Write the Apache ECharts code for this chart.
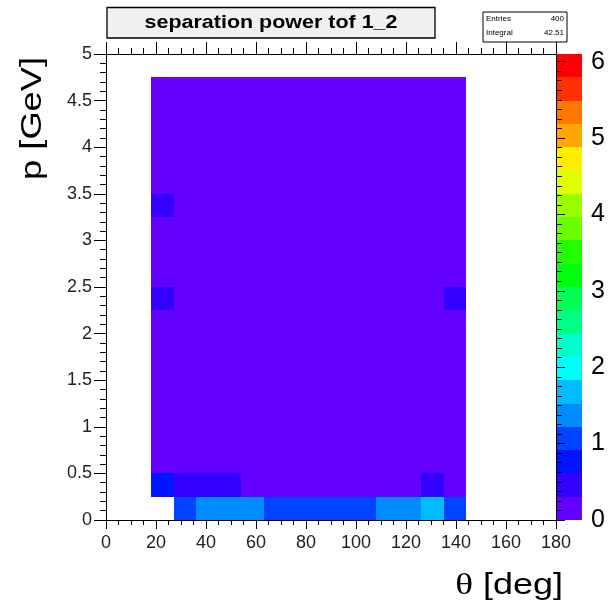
<!DOCTYPE html>
<html>
<head>
<meta charset="utf-8">
<script src="https://cdn.jsdelivr.net/npm/echarts@6.0.0/dist/echarts.min.js"></script>
<style>
  html, body { margin: 0; padding: 0; background: #ffffff; }
  #chart { width: 610px; height: 608px; }
</style>
</head>
<body>
<div id="chart"></div>
<script>
// ---- data ----
const titleText = 'separation power tof 1_2';
const xTitle = '{t|θ} [deg]';
const yTitle = 'p [GeV]';
const statsLabels = ['Entries', 'Integral'];
const statsValues = ['400', '42.51'];

// bin edges: theta (deg), p (GeV)
const thetaEdges = [0, 9, 18, 27, 36, 45, 54, 63, 72, 81, 90, 99, 108, 117, 126, 135, 144, 153, 162, 171, 180];
const pEdges = [0, 0.25, 0.5, 0.75, 1, 1.25, 1.5, 1.75, 2, 2.25, 2.5, 2.75, 3, 3.25, 3.5, 3.75, 4, 4.25, 4.5, 4.75, 5];

// axis ranges / tick steps
const thetaRange = [0, 180];
const thetaTickStep = 20;
const pRange = [0, 5];
const pTickStep = 0.5;
const zRange = [0, 6.1];      // full colour range of the palette bar
const zScaleRange = [0, 6];   // labelled part of the colour scale
const zTickStep = 1;

// bin contents, one row per p bin (row 0 = 0..0.25 GeV), one column per theta bin
const N = null;
const zGrid = [
  [N, N, N,    1.05, 1.35, 1.35, 1.35, 1.05, 1.05, 1.05, 1.05, 1.05, 1.35, 1.35, 1.7,  1.05, N, N, N, N],
  [N, N, 0.75, 0.45, 0.45, 0.45, 0.09, 0.09, 0.09, 0.09, 0.09, 0.09, 0.09, 0.09, 0.45, 0.09, N, N, N, N],
  [N, N, 0.09, 0.09, 0.09, 0.09, 0.09, 0.09, 0.09, 0.09, 0.09, 0.09, 0.09, 0.09, 0.09, 0.09, N, N, N, N],
  [N, N, 0.09, 0.09, 0.09, 0.09, 0.09, 0.09, 0.09, 0.09, 0.09, 0.09, 0.09, 0.09, 0.09, 0.09, N, N, N, N],
  [N, N, 0.09, 0.09, 0.09, 0.09, 0.09, 0.09, 0.09, 0.09, 0.09, 0.09, 0.09, 0.09, 0.09, 0.09, N, N, N, N],
  [N, N, 0.09, 0.09, 0.09, 0.09, 0.09, 0.09, 0.09, 0.09, 0.09, 0.09, 0.09, 0.09, 0.09, 0.09, N, N, N, N],
  [N, N, 0.09, 0.09, 0.09, 0.09, 0.09, 0.09, 0.09, 0.09, 0.09, 0.09, 0.09, 0.09, 0.09, 0.09, N, N, N, N],
  [N, N, 0.09, 0.09, 0.09, 0.09, 0.09, 0.09, 0.09, 0.09, 0.09, 0.09, 0.09, 0.09, 0.09, 0.09, N, N, N, N],
  [N, N, 0.09, 0.09, 0.09, 0.09, 0.09, 0.09, 0.09, 0.09, 0.09, 0.09, 0.09, 0.09, 0.09, 0.09, N, N, N, N],
  [N, N, 0.45, 0.09, 0.09, 0.09, 0.09, 0.09, 0.09, 0.09, 0.09, 0.09, 0.09, 0.09, 0.09, 0.45, N, N, N, N],
  [N, N, 0.09, 0.09, 0.09, 0.09, 0.09, 0.09, 0.09, 0.09, 0.09, 0.09, 0.09, 0.09, 0.09, 0.09, N, N, N, N],
  [N, N, 0.09, 0.09, 0.09, 0.09, 0.09, 0.09, 0.09, 0.09, 0.09, 0.09, 0.09, 0.09, 0.09, 0.09, N, N, N, N],
  [N, N, 0.09, 0.09, 0.09, 0.09, 0.09, 0.09, 0.09, 0.09, 0.09, 0.09, 0.09, 0.09, 0.09, 0.09, N, N, N, N],
  [N, N, 0.45, 0.09, 0.09, 0.09, 0.09, 0.09, 0.09, 0.09, 0.09, 0.09, 0.09, 0.09, 0.09, 0.09, N, N, N, N],
  [N, N, 0.09, 0.09, 0.09, 0.09, 0.09, 0.09, 0.09, 0.09, 0.09, 0.09, 0.09, 0.09, 0.09, 0.09, N, N, N, N],
  [N, N, 0.09, 0.09, 0.09, 0.09, 0.09, 0.09, 0.09, 0.09, 0.09, 0.09, 0.09, 0.09, 0.09, 0.09, N, N, N, N],
  [N, N, 0.09, 0.09, 0.09, 0.09, 0.09, 0.09, 0.09, 0.09, 0.09, 0.09, 0.09, 0.09, 0.09, 0.09, N, N, N, N],
  [N, N, 0.09, 0.09, 0.09, 0.09, 0.09, 0.09, 0.09, 0.09, 0.09, 0.09, 0.09, 0.09, 0.09, 0.09, N, N, N, N],
  [N, N, 0.09, 0.09, 0.09, 0.09, 0.09, 0.09, 0.09, 0.09, 0.09, 0.09, 0.09, 0.09, 0.09, 0.09, N, N, N, N],
  [N, N, N,    N,    N,    N,    N,    N,    N,    N,    N,    N,    N,    N,    N,    N,    N, N, N, N]
];

// colour palette levels (20 contours) and colours
const paletteEdges = [0, 0.305, 0.61, 0.915, 1.22, 1.525, 1.83, 2.135, 2.44, 2.745, 3.05,
                      3.355, 3.66, 3.965, 4.27, 4.575, 4.88, 5.185, 5.49, 5.795, 6.1];
const paletteColors = ['#6300ff', '#3300ff', '#0014ff', '#0044ff', '#008bff', '#00bbff', '#00fffc',
                       '#00ffcc', '#00ff85', '#00ff55', '#00ff0e', '#22ff00', '#69ff00', '#99ff00',
                       '#e0ff00', '#ffee00', '#ffa700', '#ff7700', '#ff3000', '#ff0000'];

// ---- build series data ----
const cellData = [];
zGrid.forEach(function (row, j) {
  row.forEach(function (z, i) {
    if (z !== null) cellData.push([thetaEdges[i], pEdges[j], z, thetaEdges[i + 1], pEdges[j + 1]]);
  });
});
const paletteData = [];
for (let k = 0; k < paletteColors.length; k++) {
  const lo = paletteEdges[k], hi = paletteEdges[k + 1];
  paletteData.push([0, lo, (lo + hi) / 2, 1, hi]);
}
const pieces = paletteColors.map(function (c, k) {
  const p = { gte: paletteEdges[k], color: c };
  if (k === paletteColors.length - 1) p.lte = paletteEdges[k + 1]; else p.lt = paletteEdges[k + 1];
  return p;
});

function renderCell(params, api) {
  const a = api.coord([api.value(0), api.value(1)]);
  const b = api.coord([api.value(3), api.value(4)]);
  const x0 = Math.round(a[0]), x1 = Math.round(b[0]);
  const y0 = Math.round(b[1]), y1 = Math.round(a[1]);
  return {
    type: 'rect',
    shape: { x: x0, y: y0, width: x1 - x0, height: y1 - y0 },
    style: { fill: api.visual('color'), stroke: null, lineWidth: 0 }
  };
}

// layout of the frame and of the colour bar
const plotTop = 54, plotHeight = 466, barLeft = 557, barWidth = 25;
const scaleHeight = plotHeight * zScaleRange[1] / zRange[1];
const scaleTop = plotTop + plotHeight - scaleHeight;

const FONT = "'Liberation Sans', Arial, Helvetica, sans-serif";
const axisLineStyle = { show: true, onZero: false, lineStyle: { color: '#000', width: 1 } };

const chart = echarts.init(document.getElementById('chart'), null, { renderer: 'canvas' });
chart.setOption({
  animation: false,
  backgroundColor: '#ffffff',
  grid: [
    { left: 106, top: plotTop, width: 450, height: plotHeight },
    { left: barLeft, top: plotTop, width: barWidth, height: plotHeight },
    { left: barLeft, top: scaleTop, width: barWidth, height: scaleHeight }
  ],
  xAxis: [
    {
      gridIndex: 0, type: 'value', position: 'bottom', min: thetaRange[0], max: thetaRange[1], interval: thetaTickStep,
      axisLine: axisLineStyle,
      axisTick: { show: true, length: 9, lineStyle: { color: '#000' } },
      minorTick: { show: true, splitNumber: 4, length: 5, lineStyle: { color: '#000' } },
      axisLabel: { fontFamily: FONT, fontSize: 18, color: '#222', margin: 14 },
      splitLine: { show: false }, z: 10
    },
    {
      gridIndex: 0, type: 'value', position: 'top', min: thetaRange[0], max: thetaRange[1], interval: thetaTickStep,
      axisLine: axisLineStyle,
      axisTick: { show: true, length: 12, lineStyle: { color: '#000' } },
      minorTick: { show: true, splitNumber: 4, length: 6, lineStyle: { color: '#000' } },
      axisLabel: { show: false },
      splitLine: { show: false }, z: 10
    },
    {
      gridIndex: 1, type: 'value', position: 'bottom', min: 0, max: 1, show: false,
      axisLine: { show: false, onZero: false }
    },
    {
      gridIndex: 2, type: 'value', position: 'bottom', min: 0, max: 1, show: false,
      axisLine: { show: false, onZero: false }
    }
  ],
  yAxis: [
    {
      gridIndex: 0, type: 'value', position: 'left', min: pRange[0], max: pRange[1], interval: pTickStep,
      axisLine: axisLineStyle,
      axisTick: { show: true, length: 12, lineStyle: { color: '#000' } },
      minorTick: { show: true, splitNumber: 5, length: 6, lineStyle: { color: '#000' } },
      axisLabel: { fontFamily: FONT, fontSize: 18, color: '#222', margin: 14 },
      splitLine: { show: false }, z: 10
    },
    {
      gridIndex: 0, type: 'value', position: 'right', min: pRange[0], max: pRange[1], interval: pTickStep,
      axisLine: axisLineStyle, axisTick: { show: false }, axisLabel: { show: false }, splitLine: { show: false }, z: 10
    },
    {
      gridIndex: 1, type: 'value', position: 'right', min: zRange[0], max: zRange[1], show: false,
      axisLine: { show: false, onZero: false }
    },
    {
      // ticks of the colour scale, pointing into the bar
      gridIndex: 2, type: 'value', position: 'left', min: zScaleRange[0], max: zScaleRange[1], interval: zTickStep,
      axisLine: { show: false, onZero: false },
      axisTick: { show: true, inside: true, length: 8, lineStyle: { color: '#000' } },
      minorTick: { show: true, splitNumber: 8, length: 5, lineStyle: { color: '#000' } },
      axisLabel: { show: false },
      splitLine: { show: false }, zlevel: 1, z: 20
    },
    {
      // labels of the colour scale
      gridIndex: 2, type: 'value', position: 'right', min: zScaleRange[0], max: zScaleRange[1], interval: zTickStep,
      axisLine: { show: false, onZero: false }, axisTick: { show: false }, splitLine: { show: false },
      axisLabel: { fontFamily: FONT, fontSize: 25, color: '#000', margin: 9 },
      zlevel: 1, z: 20
    }
  ],
  visualMap: {
    type: 'piecewise', show: false, dimension: 2, seriesIndex: [0, 1], pieces: pieces
  },
  series: [
    {
      type: 'custom', name: 'separation power', xAxisIndex: 0, yAxisIndex: 0,
      encode: { x: [0, 3], y: [1, 4], tooltip: 2 },
      renderItem: renderCell, data: cellData, z: 1
    },
    {
      type: 'custom', name: 'palette', xAxisIndex: 2, yAxisIndex: 2,
      encode: { x: [0, 3], y: [1, 4], tooltip: 2 },
      renderItem: renderCell, data: paletteData, z: -1
    }
  ],
  graphic: [
    {
      type: 'rect', z: 100, shape: { x: 107, y: 7.5, width: 328, height: 30.5 },
      style: { fill: '#f0f0f0', stroke: '#000', lineWidth: 1.3 }
    },
    {
      type: 'text', z: 101, x: 271, y: 23, scaleX: 1.13,
      style: { text: titleText, font: "bold 19px " + FONT, fill: '#000', align: 'center', verticalAlign: 'middle' }
    },
    {
      type: 'rect', z: 100, shape: { x: 483, y: 12, width: 84, height: 30 },
      style: { fill: '#ffffff', stroke: '#000', lineWidth: 1 }
    },
    {
      type: 'text', z: 101, x: 486, y: 19,
      style: { text: statsLabels[0], font: "8px " + FONT, fill: '#000', align: 'left', verticalAlign: 'middle' }
    },
    {
      type: 'text', z: 101, x: 564, y: 19,
      style: { text: statsValues[0], font: "8px " + FONT, fill: '#000', align: 'right', verticalAlign: 'middle' }
    },
    {
      type: 'text', z: 101, x: 486, y: 33,
      style: { text: statsLabels[1], font: "8px " + FONT, fill: '#000', align: 'left', verticalAlign: 'middle' }
    },
    {
      type: 'text', z: 101, x: 564, y: 33,
      style: { text: statsValues[1], font: "8px " + FONT, fill: '#000', align: 'right', verticalAlign: 'middle' }
    },
    {
      type: 'text', z: 101, x: 563, y: 586, scaleX: 1.24,
      style: {
        text: xTitle, font: "29px " + FONT, fill: '#000', align: 'right', verticalAlign: 'middle',
        rich: { t: { fontFamily: "'Liberation Serif', 'DejaVu Serif', serif", fontSize: 30, fill: '#000' } }
      }
    },
    {
      type: 'text', z: 101, x: 33, y: 57, rotation: Math.PI / 2, scaleX: 1.25,
      style: { text: yTitle, font: "29px " + FONT, fill: '#000', align: 'right', verticalAlign: 'middle' }
    }
  ]
});
</script>
</body>
</html>
